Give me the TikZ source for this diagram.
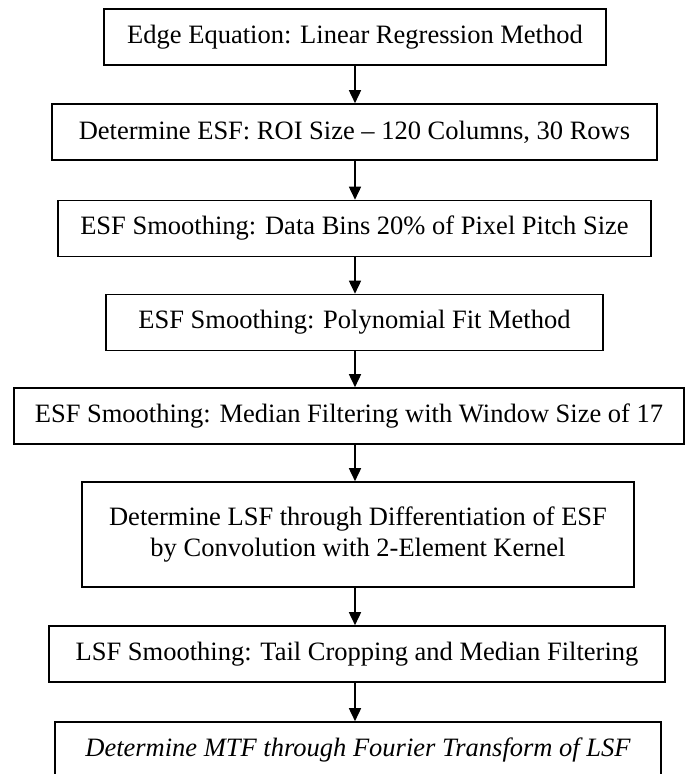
\documentclass[tikz,border=0pt]{standalone}
\usepackage{fontspec}
\setmainfont{Liberation Serif}
\usetikzlibrary{arrows.meta,positioning}

\begin{document}
\begin{tikzpicture}[x=1pt,y=-1pt,every node/.style={font=\fontsize{26.5}{31}\selectfont},
  stepbox/.style={draw,line width=1.6pt,inner sep=0pt,minimum height=56pt,align=center},
  flow/.style={-{Triangle[length=13pt,width=12pt]},line width=1.6pt}]
\useasboundingbox (0,0) rectangle (685,774);
\coordinate (spine) at (355,0);
\node[stepbox,minimum width=502pt] (edge)   at (355,37)    {Edge Equation: Linear Regression Method};
\node[stepbox,minimum width=605pt] (esf)    at (354.5,132) {Determine ESF: ROI Size -- 120 Columns, 30 Rows};
\node[stepbox,minimum width=593pt] (bins)   at (354.5,228.5) {ESF Smoothing: Data Bins 20\% of Pixel Pitch Size};
\node[stepbox,minimum width=497pt] (poly)   at (354.5,322.5) {ESF Smoothing: Polynomial Fit Method};
\node[stepbox,minimum width=670pt] (median) at (349,416)   {ESF Smoothing: Median Filtering with Window Size of 17};
\node[stepbox,minimum width=552pt,minimum height=105pt] (lsf) at (358,534.5)
  {Determine LSF through Differentiation of ESF\\by Convolution with 2-Element Kernel};
\node[stepbox,minimum width=616pt] (tail)   at (357,654)   {LSF Smoothing: Tail Cropping and Median Filtering};
\node[stepbox,minimum width=606pt] (mtf)    at (358,750)   {\itshape Determine MTF through Fourier Transform of LSF};
\draw[flow] (edge.south -| spine) -- (esf.north -| spine);
\draw[flow] (esf.south -| spine) -- (bins.north -| spine);
\draw[flow] (bins.south -| spine) -- (poly.north -| spine);
\draw[flow] (poly.south -| spine) -- (median.north -| spine);
\draw[flow] (median.south -| spine) -- (lsf.north -| spine);
\draw[flow] (lsf.south -| spine) -- (tail.north -| spine);
\draw[flow] (tail.south -| spine) -- (mtf.north -| spine);
\end{tikzpicture}
\end{document}
